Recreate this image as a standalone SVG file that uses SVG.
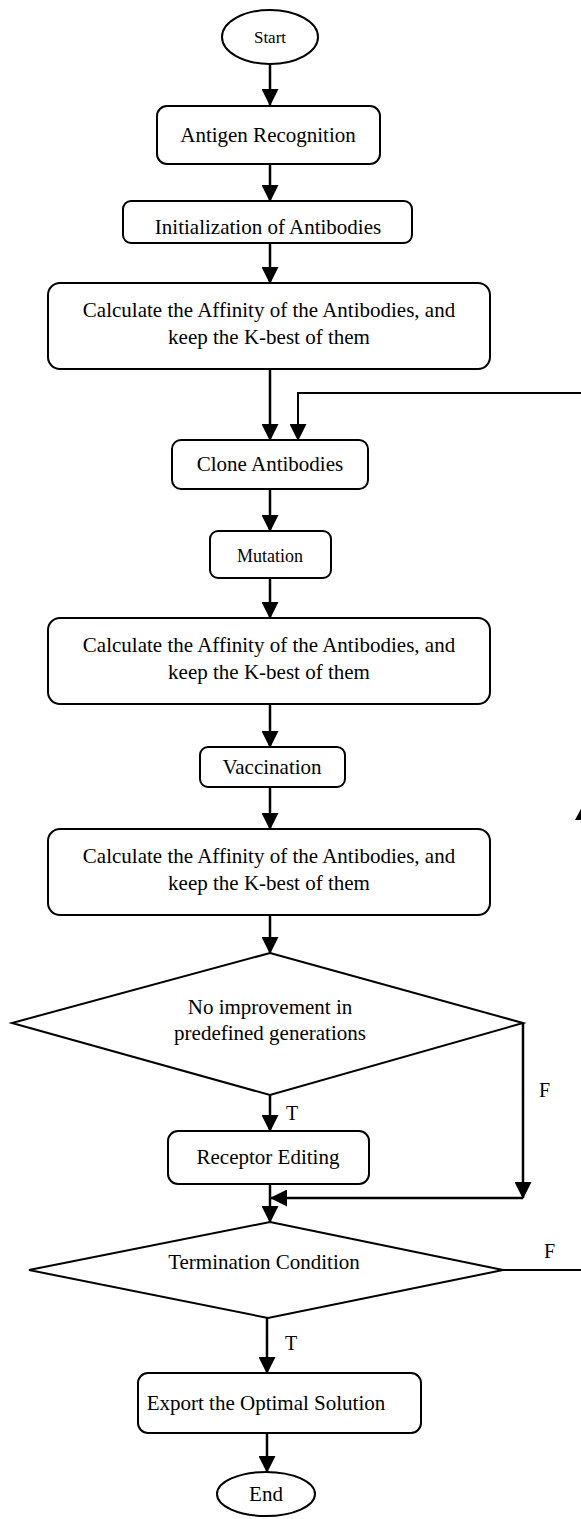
<svg xmlns="http://www.w3.org/2000/svg" width="581" height="1519" viewBox="0 0 581 1519">
<style>
  .box { fill: #fff; stroke: #000; stroke-width: 2; }
  .t { font-family: "Liberation Serif", "Times New Roman", serif; font-size: 21px; fill: #000; text-anchor: middle; }
  .s { font-size: 17px; }
  .m { font-size: 18px; }
  .lbl { font-family: "Liberation Serif", "Times New Roman", serif; font-size: 20px; fill: #000; }
  .c { fill: none; stroke: #000; stroke-width: 2.5; }
  .ca { fill: none; stroke: #000; stroke-width: 2.5; marker-end: url(#ah); }
</style>
<defs>
  <marker id="ah" markerUnits="userSpaceOnUse" markerWidth="17" markerHeight="17" viewBox="0 0 17 17" refX="16" refY="8.5" orient="auto">
    <path d="M0,0 L17,8.5 L0,17 Z" fill="#000"/>
  </marker>
</defs>
<rect width="581" height="1519" fill="#fff"/>

<g id="connectors">
  <line class="ca" x1="270" y1="64" x2="270" y2="105"/>
  <line class="ca" x1="270" y1="164" x2="270" y2="201"/>
  <line class="ca" x1="270" y1="243" x2="270" y2="283"/>
  <line class="ca" x1="270" y1="370" x2="270" y2="440"/>
  <path class="ca" d="M590,393 H298 V440" style="stroke-width:2"/>
  <line class="ca" x1="270" y1="489" x2="270" y2="531"/>
  <line class="ca" x1="270" y1="578" x2="270" y2="618"/>
  <line class="ca" x1="270" y1="704" x2="270" y2="747"/>
  <line class="ca" x1="270" y1="787" x2="270" y2="829"/>
  <line class="ca" x1="270" y1="915" x2="270" y2="953"/>
  <line class="ca" x1="270" y1="1095" x2="270" y2="1131"/>
  <path class="ca" d="M523,1023 V1198"/>
  <path class="ca" d="M523,1198 H271"/>
  <line class="ca" x1="270" y1="1184" x2="270" y2="1222"/>
  <path class="c" d="M503,1270 H584 V820" style="stroke-width:2"/>
  <polygon points="575,820 583.5,804 592,820" fill="#000"/>
  <line class="ca" x1="267" y1="1318" x2="267" y2="1373"/>
  <line class="ca" x1="267" y1="1433" x2="267" y2="1472"/>
  <text class="lbl" x="286" y="1120">T</text>
  <text class="lbl" x="539" y="1097">F</text>
  <text class="lbl" x="544" y="1258">F</text>
  <text class="lbl" x="285" y="1350">T</text>
</g>

<g id="start">
  <ellipse class="box" cx="270" cy="37" rx="48" ry="27"/>
  <text class="t s" x="270" y="43">Start</text>
</g>
<g id="antigen">
  <rect class="box" x="157" y="106" width="223" height="58" rx="10"/>
  <text class="t" x="268" y="142">Antigen Recognition</text>
</g>
<g id="init">
  <rect class="box" x="123" y="201" width="289" height="42" rx="8"/>
  <text class="t" x="268" y="234">Initialization of Antibodies</text>
</g>
<g id="calc1">
  <rect class="box" x="48" y="283" width="442" height="86" rx="12"/>
  <text class="t" x="269" y="317">Calculate the Affinity of the Antibodies, and</text>
  <text class="t" x="269" y="344">keep the K-best of them</text>
</g>
<g id="clone">
  <rect class="box" x="172" y="440" width="196" height="49" rx="9"/>
  <text class="t" x="270" y="471">Clone Antibodies</text>
</g>
<g id="mutation">
  <rect class="box" x="210" y="531" width="121" height="47" rx="8"/>
  <text class="t m" x="270" y="562">Mutation</text>
</g>
<g id="calc2">
  <rect class="box" x="48" y="618" width="442" height="86" rx="12"/>
  <text class="t" x="269" y="652">Calculate the Affinity of the Antibodies, and</text>
  <text class="t" x="269" y="679">keep the K-best of them</text>
</g>
<g id="vaccination">
  <rect class="box" x="200" y="747" width="145" height="40" rx="8"/>
  <text class="t" x="272" y="774">Vaccination</text>
</g>
<g id="calc3">
  <rect class="box" x="48" y="829" width="442" height="86" rx="12"/>
  <text class="t" x="269" y="863">Calculate the Affinity of the Antibodies, and</text>
  <text class="t" x="269" y="890">keep the K-best of them</text>
</g>
<g id="decision1">
  <polygon class="box" points="270,953 523,1023 270,1095 12,1023"/>
  <text class="t" x="270" y="1014">No improvement in</text>
  <text class="t" x="270" y="1040">predefined generations</text>
</g>
<g id="receptor">
  <rect class="box" x="168" y="1131" width="201" height="53" rx="10"/>
  <text class="t" x="268" y="1164">Receptor Editing</text>
</g>
<g id="decision2">
  <polygon class="box" points="270,1222 503,1270 268,1318 29,1270"/>
  <text class="t" x="264" y="1269">Termination Condition</text>
</g>
<g id="export">
  <rect class="box" x="138" y="1373" width="283" height="60" rx="10"/>
  <text class="t" x="266" y="1410">Export the Optimal Solution</text>
</g>
<g id="end">
  <ellipse class="box" cx="266" cy="1494" rx="49" ry="22"/>
  <text class="t" x="266" y="1501">End</text>
</g>
</svg>
